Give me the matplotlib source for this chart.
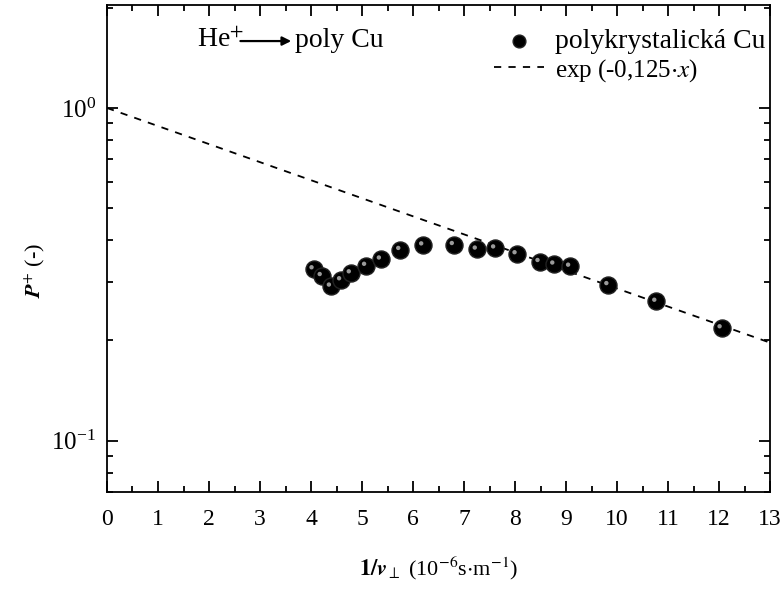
import numpy as np
import matplotlib
matplotlib.use("Agg")
import matplotlib.pyplot as plt
from matplotlib.ticker import LogLocator, MultipleLocator, NullFormatter

# measured points, polycrystalline Cu
x_pts = [4.05, 4.21, 4.39, 4.59, 4.78, 5.08, 5.37, 5.75, 6.20, 6.80,
         7.25, 7.61, 8.03, 8.48, 8.77, 9.08, 9.83, 10.77, 12.05]
p_pts = [0.328, 0.313, 0.291, 0.304, 0.319, 0.336, 0.351, 0.375, 0.387, 0.388,
         0.376, 0.379, 0.364, 0.345, 0.339, 0.334, 0.294, 0.262, 0.218]

# fit curve exp(-0.125 x)
k_fit = 0.125
x_fit = np.linspace(0, 13, 200)

plt.rcParams['font.family'] = ['Liberation Serif', 'DejaVu Serif']
plt.rcParams['mathtext.fontset'] = 'stix'

fig = plt.figure(figsize=(7.81, 5.90), dpi=100)
ax = fig.add_axes([0.137, 0.166, 0.849, 0.8255])

ax.plot(x_fit, np.exp(-k_fit * x_fit), ls=(0, (4, 4)), color='black', lw=1.3,
        label='exp (-0,125$\\cdot$$\\mathit{x}$)')
ax.scatter(x_pts, p_pts, s=150, color='black', edgecolor='#222222', zorder=3,
           label='polykrystalická Cu')
# small highlight to mimic shaded spheres
ax.scatter(np.array(x_pts) - 0.04, np.array(p_pts) * 1.012, s=10, color='#9a9a9a',
           edgecolor='none', zorder=4)

ax.set_yscale('log')
ax.set_xlim(0, 13)
ax.set_ylim(0.07, 2.04)
ax.xaxis.set_major_locator(MultipleLocator(1))
ax.xaxis.set_minor_locator(MultipleLocator(0.5))
ax.yaxis.set_major_locator(LogLocator(base=10, numticks=10))
ax.yaxis.set_minor_locator(LogLocator(base=10, subs=np.arange(2, 10), numticks=10))
ax.yaxis.set_minor_formatter(NullFormatter())

ax.tick_params(which='both', direction='in', top=True, right=True, labelsize=18, width=1.3)
ax.tick_params(which='major', length=8)
ax.tick_params(which='minor', length=4)
ax.tick_params(axis='x', which='major', pad=12, labelsize=17)
ax.tick_params(axis='y', which='major', pad=8)
for sp in ax.spines.values():
    sp.set_linewidth(1.3)

ax.set_xlabel(r'$\mathbf{1/}\mathbfit{v}_{\perp}$ (10$^{-6}$s$\cdot$m$^{-1}$)', fontsize=16)
ax.set_ylabel(r'$\mathbfit{P}^{+}$ (-)', fontsize=16)
ax.xaxis.set_label_coords(0.5, -0.128)
ax.yaxis.set_label_coords(-0.09, 0.455)

handles, labels = ax.get_legend_handles_labels()
leg = ax.legend(handles[::-1], labels[::-1], loc='upper right', bbox_to_anchor=(1.006, 0.968),
                frameon=False, fontsize=20, handlelength=1.8, handletextpad=0.4,
                labelspacing=0.1, borderaxespad=0.1, borderpad=0.2, markerscale=0.75)
leg.get_texts()[1].set_fontsize(18)

ax.text(0.136, 0.928, 'He$^{+}$', transform=ax.transAxes, fontsize=20, va='center')
ax.annotate('', xy=(0.282, 0.926), xytext=(0.197, 0.926), xycoords='axes fraction',
            arrowprops=dict(arrowstyle='-|>', color='black', lw=1.6, mutation_scale=13))
ax.text(0.284, 0.928, 'poly Cu', transform=ax.transAxes, fontsize=20, va='center')

fig.savefig('out.png', dpi=100)
